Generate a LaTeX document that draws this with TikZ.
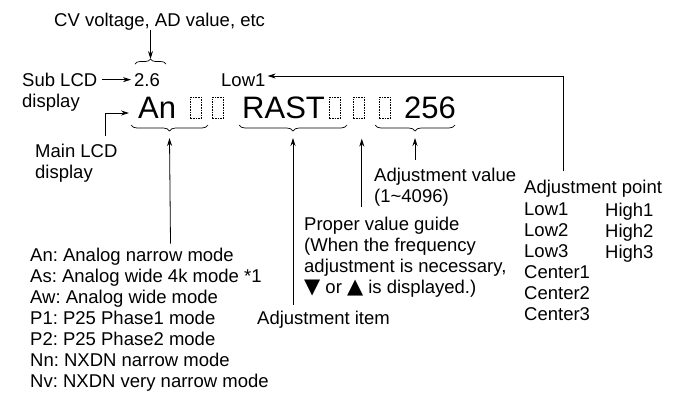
\documentclass[tikz,border=0pt]{standalone}
\usepackage{fontspec}
\setmainfont{Liberation Sans}
\newfontfamily\symfont{DejaVu Sans}
\newcommand{\tri}[1]{{\symfont\fontsize{21}{21}\selectfont #1}}
\frenchspacing
\usetikzlibrary{arrows.meta, positioning, calc, decorations.pathreplacing}

\begin{document}
\begin{tikzpicture}[
    x=1pt, y=-1pt,
    >={Stealth[length=8pt, width=5pt]},
    txt/.style={inner sep=0pt, anchor=base west, font=\fontsize{18.5}{21}\selectfont},
    block/.style={inner sep=0pt, anchor=north west, align=left, font=\fontsize{18.5}{21}\selectfont},
    lcd/.style={inner sep=0pt, anchor=base west, font=\fontsize{31}{31}\selectfont},
    cell/.style={draw, dash pattern=on 1.6pt off 1pt, line width=0.6pt, minimum width=11pt, minimum height=21pt, inner sep=0pt, anchor=north west},
    overbrace/.style={decorate, decoration={brace, amplitude=5pt}, line width=0.7pt},
    underbrace/.style={decorate, decoration={brace, amplitude=6pt, mirror}, line width=0.7pt},
    pointer/.style={->, line width=0.8pt}
]
\useasboundingbox (0,0) rectangle (674,392);

\node[txt] (cv) at (54,26) {CV voltage, AD value, etc};
\node[block] (sublcd) at (22,72.7) {Sub LCD\\display};
\node[txt] (v26) at (134,86) {2.6};
\node[txt] (low1) at (221,86) {Low1};

\node[lcd] (an) at (138,118) {An};
\node[cell] (c1) at (190,97) {};
\node[cell] (c2) at (212,97) {};
\node[lcd] (rast) at (242,118) {RAST};
\node[cell] (c3) at (329,97) {};
\node[cell] (c4) at (353,97) {};
\node[cell] (c5) at (379,97) {};
\node[lcd] (val) at (404,118) {256};

\node[block] (mainlcd) at (35,143.7) {Main LCD\\display};
\node[block] (value) at (374,167.5) {Adjustment value\\(1\textasciitilde4096)};
\node[txt] (pt) at (524,193) {Adjustment point};
\node[block] (lows) at (524,203) {Low1\\Low2\\Low3\\Center1\\Center2\\Center3};
\node[block] (highs) at (605,203) {High1\\High2\\High3};
\node[block] (guide) at (304,216.5) {Proper value guide\\(When the frequency\\adjustment is necessary,\\\tri{▼} or \tri{▲} is displayed.)};
\node[block] (modes) at (30,247.5) {An: Analog narrow mode\\As: Analog wide 4k mode *1\\Aw: Analog wide mode\\P1: P25 Phase1 mode\\P2: P25 Phase2 mode\\Nn: NXDN narrow mode\\Nv: NXDN very narrow mode};
\node[txt] (item) at (257,324) {Adjustment item};

\coordinate (subL) at (135,64);
\coordinate (subR) at (166,64);
\coordinate (anL) at (131,125);
\coordinate (anR) at (208,125);
\coordinate (rastL) at (239,125);
\coordinate (rastR) at (347,125);
\coordinate (valL) at (375,125);
\coordinate (valR) at (455,125);
\draw[overbrace] (subL) -- (subR);
\draw[underbrace] (anL) -- (anR);
\draw[underbrace] (rastL) -- (rastR);
\draw[underbrace] (valL) -- (valR);

\coordinate (mainbend) at (105,113);
\coordinate (ptbend) at (563,76);

\draw[pointer] (cv.south -| subL) ++(15.5,0) -- ($(subL)!0.5!(subR)+(0,-5)$);
\draw[pointer, shorten <=5pt, shorten >=3pt] (v26.west -| sublcd.north east) -- (v26.west);
\draw[pointer] ([yshift=8pt]pt.north -| ptbend) -- (ptbend) -- ([xshift=2pt]ptbend -| low1.east);
\draw[pointer] ([yshift=8pt]mainlcd.north -| mainbend) -- (mainbend) -- ([xshift=-9pt]an.west |- mainbend);
\draw[pointer] ([yshift=4pt]modes.north -| anL) ++(39.5,0) -- ($(anL)!0.5!(anR)+(0,13)$);
\draw[pointer] ([yshift=5.5pt]item.north -| rastL) ++(54,0) -- ($(rastL)!0.5!(rastR)+(0,13)$);
\draw[pointer] ([yshift=9.5pt]guide.north -| c4) ++(3,0) -- ([xshift=3pt, yshift=-20pt]c4.south);
\draw[pointer] ([yshift=7.5pt]value.north -| valL) ++(40,0) -- ($(valL)!0.5!(valR)+(0,13)$);
\end{tikzpicture}
\end{document}
